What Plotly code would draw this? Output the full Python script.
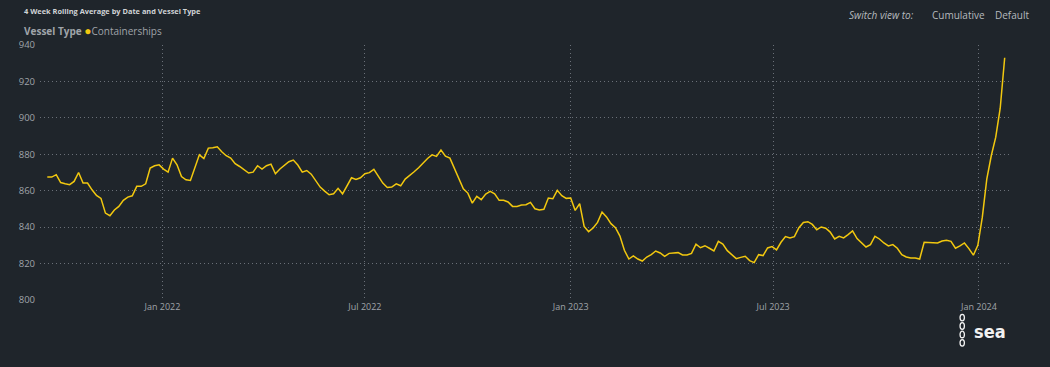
import pandas as pd
import plotly.graph_objects as go

# ---- data (4-week rolling average, sampled every 4 days) ----
start_date = "2021-09-20"
step_days = 4
containerships = [
    867.5, 867.5, 868.8, 864.5, 863.8, 863.3, 865.1, 870.0, 864.2, 864.2,
    860.5, 857.4, 855.8, 847.7, 846.3, 849.4, 851.4, 854.7, 856.5, 857.2,
    862.4, 862.4, 863.8, 872.4, 873.7, 874.2, 871.9, 870.2, 877.9, 874.2,
    867.8, 866.0, 865.6, 873.0, 879.7, 877.7, 883.4, 883.6, 884.1, 881.4,
    879.2, 877.9, 874.8, 873.3, 871.5, 869.7, 870.2, 873.7, 871.9, 873.7,
    874.6, 869.3, 871.9, 873.9, 875.9, 876.8, 874.1, 870.2, 871.1, 869.1,
    865.3, 862.0, 859.8, 857.8, 858.3, 861.3, 858.3, 862.9, 867.1, 866.2,
    867.1, 869.3, 869.9, 871.7, 867.8, 864.2, 861.8, 862.0, 863.8, 862.7,
    866.4, 868.2, 870.4, 872.6, 875.2, 877.7, 879.7, 878.8, 882.3, 879.0,
    877.9, 872.2, 866.6, 861.1, 858.7, 853.2, 856.9, 855.1, 858.2, 859.6,
    858.3, 854.7, 854.7, 853.8, 851.4, 851.4, 852.1, 852.3, 853.6, 850.1,
    849.4, 849.8, 856.0, 855.6, 860.2, 857.3, 855.8, 856.0, 849.2, 852.9,
    840.4, 837.5, 839.5, 842.6, 848.3, 845.6, 841.9, 839.7, 835.1, 827.3,
    822.5, 824.2, 822.5, 821.4, 823.6, 824.9, 826.9, 825.8, 824.0, 825.6,
    825.8, 826.0, 824.7, 824.7, 825.6, 830.7, 828.7, 829.8, 828.4, 826.9,
    832.2, 830.7, 827.1, 824.9, 822.7, 823.4, 824.0, 821.6, 820.5, 824.9,
    824.4, 828.6, 829.3, 827.5, 831.7, 834.8, 834.1, 834.8, 839.7, 842.6,
    843.0, 841.5, 838.6, 840.1, 839.4, 837.3, 833.5, 835.0, 834.1, 835.9,
    837.9, 833.7, 831.3, 829.1, 830.4, 835.0, 833.5, 831.3, 829.7, 830.4,
    828.4, 824.9, 823.6, 823.1, 823.1, 822.5, 831.7, 831.7, 831.3, 831.3,
    832.4, 832.8, 832.2, 828.4, 829.7, 831.3, 828.2, 824.6, 830.0, 845.5,
    866.4, 879.2, 889.4, 905.3, 933.0,
]
dates = pd.date_range(start_date, periods=len(containerships), freq=f"{step_days}D")

y_ticks = [800, 820, 840, 860, 880, 900, 920, 940]
x_range = ["2021-09-13 12:00", "2024-01-28 18:00"]

BG = "#1f252b"
GRID = "#6a7078"
TXT = "#9fa4a9"
LINE = "#f2c80f"
FONT = "Segoe UI, Open Sans, sans-serif"

fig = go.Figure()
fig.add_trace(go.Scatter(
    x=dates, y=containerships, mode="lines",
    line=dict(color=LINE, width=1.5), name="Containerships",
    showlegend=False,
))

fig.update_layout(
    width=1050, height=367,
    paper_bgcolor=BG, plot_bgcolor=BG,
    margin=dict(l=40, r=40, t=45, b=67),
    font=dict(family=FONT, color=TXT, size=10),
    xaxis=dict(
        range=x_range, type="date",
        tick0="2022-01-01", dtick="M6", tickformat="%b %Y",
        showgrid=True, gridcolor=GRID, griddash="1px,3px", gridwidth=1,
        zeroline=False, showline=False, ticks="",
        tickfont=dict(size=9, color=TXT, family=FONT),
    ),
    yaxis=dict(
        range=[800, 940], tickvals=y_ticks,
        showgrid=True, gridcolor=GRID, griddash="1px,3px", gridwidth=1,
        zeroline=False, showline=False, ticks="", ticklabelstandoff=4,
        tickfont=dict(size=9.5, color=TXT, family=FONT),
    ),
    annotations=[
        dict(text="<b>4 Week Rolling Average by Date and Vessel Type</b>",
             xref="paper", yref="paper", x=-0.0185, y=1.0,
             yshift=34, xanchor="left", yanchor="middle", showarrow=False,
             font=dict(size=7.4, color="#d0d3d6", family=FONT)),
        dict(text="<b>Vessel Type</b> <span style='color:#f2c80f;font-size:12px'>●</span>Containerships",
             xref="paper", yref="paper", x=-0.0185, y=1.0,
             yshift=15, xanchor="left", yanchor="middle", showarrow=False,
             font=dict(size=10, color=TXT, family=FONT)),
        dict(text="<i>Switch view to:</i>", xref="paper", yref="paper",
             x=0.8315, y=1.0, yshift=30, xanchor="left", yanchor="middle",
             showarrow=False, font=dict(size=10, color="#b5babe", family=FONT)),
        dict(text="Cumulative", xref="paper", yref="paper",
             x=0.9175, y=1.0, yshift=30, xanchor="left", yanchor="middle",
             showarrow=False, font=dict(size=10, color="#b5babe", family=FONT)),
        dict(text="Default", xref="paper", yref="paper",
             x=0.9825, y=1.0, yshift=30, xanchor="left", yanchor="middle",
             showarrow=False, font=dict(size=10, color="#b5babe", family=FONT)),
        dict(text="<b>sea</b>", xref="paper", yref="paper",
             x=0.961, y=0, yshift=-31, xanchor="left", yanchor="middle",
             showarrow=False,
             font=dict(size=18, color="#f2f2f2", family="DejaVu Sans Condensed")),
    ],
)

# decorative chain logo next to "sea"
for k in range(4):
    fig.add_shape(type="circle", xref="paper", yref="paper",
                  x0=0.9485, x1=0.9530,
                  y0=-0.082 - k * 0.033, y1=-0.056 - k * 0.033,
                  line=dict(color="#f2f2f2", width=1.3))

fig.write_html("out.html")
